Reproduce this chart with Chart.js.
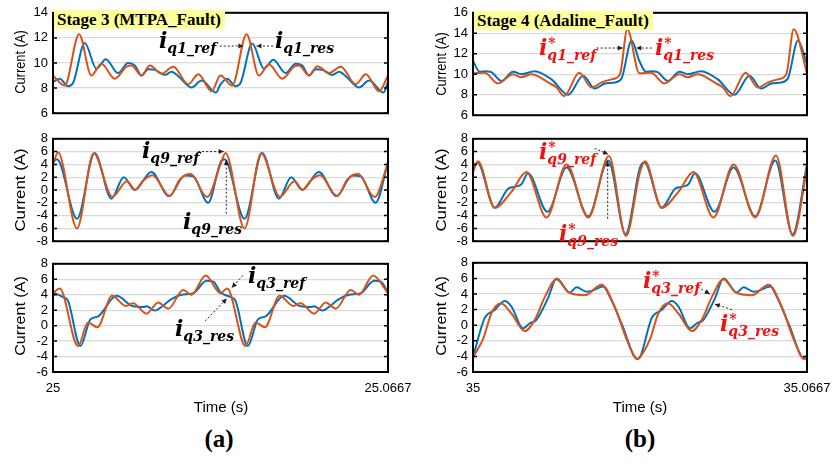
<!DOCTYPE html>
<html>
<head>
<meta charset="utf-8">
<script src="https://cdn.jsdelivr.net/npm/chart.js@4.4.1/dist/chart.umd.min.js"></script>
<style>
  body { margin:0; background:#fff; }
  #fig { position:relative; width:832px; height:465px; overflow:hidden; font-family:'Liberation Sans', Arial, sans-serif; color:#000; }
  canvas { position:absolute; }
  .ylab { position:absolute; font-size:14px; white-space:nowrap; }
  .xlab { position:absolute; font-size:15px; transform:translateX(-50%); white-space:nowrap; }
  .cap { position:absolute; font:bold 25px 'Liberation Serif', serif; transform:translateX(-50%); }
  .stage { position:absolute; background:#ffff99; font:bold 17px 'Liberation Serif', serif; line-height:19px; padding:0 4px 0 3px; white-space:nowrap; }
  .ann { position:absolute; font:italic bold 22px 'DejaVu Serif', serif; line-height:22px; white-space:nowrap; }
  .ann.red { color:#f21111; }
  .ann .sb { font-size:14px; position:relative; top:5px; }
  .ann .st { position:absolute; left:1px; top:-15px; font-size:14px; }
</style>
</head>
<body>
<div id="fig">
  <canvas id="lt" width="420" height="126" style="left:0;top:0"></canvas>
  <canvas id="lm" width="420" height="128" style="left:0;top:126px"></canvas>
  <canvas id="lb" width="420" height="160" style="left:0;top:251px"></canvas>
  <canvas id="rt" width="410" height="128" style="left:422px;top:0"></canvas>
  <canvas id="rm" width="410" height="128" style="left:422px;top:126px"></canvas>
  <canvas id="rb" width="410" height="160" style="left:422px;top:250px"></canvas>

  <div class="ylab" style="left:19.5px;top:62px;transform:translate(-50%,-50%) rotate(-90deg) scaleX(0.92)">Current (A)</div>
  <div class="ylab" style="left:19.5px;top:190px;transform:translate(-50%,-50%) rotate(-90deg) scaleX(1.2)">Current (A)</div>
  <div class="ylab" style="left:19.5px;top:316px;transform:translate(-50%,-50%) rotate(-90deg) scaleX(1.15)">Current (A)</div>
  <div class="ylab" style="left:441px;top:64px;transform:translate(-50%,-50%) rotate(-90deg) scaleX(0.92)">Current (A)</div>
  <div class="ylab" style="left:441px;top:190px;transform:translate(-50%,-50%) rotate(-90deg) scaleX(1.2)">Current (A)</div>
  <div class="ylab" style="left:441px;top:316px;transform:translate(-50%,-50%) rotate(-90deg) scaleX(1.15)">Current (A)</div>

  <div class="xlab" style="left:221px;top:398px">Time (s)</div>
  <div class="xlab" style="left:640px;top:398px">Time (s)</div>
  <div class="cap" style="left:219px;top:425px">(a)</div>
  <div class="cap" style="left:640px;top:425px">(b)</div>

  <div class="stage" style="left:54px;top:10px">Stage 3 (MTPA_Fault)</div>
  <div class="stage" style="left:474px;top:11px">Stage 4 (Adaline_Fault)</div>

  <div class="ann" style="left:159px;top:29px">i<span class="sb">q1_ref</span></div>
  <div class="ann" style="left:275px;top:29px">i<span class="sb">q1_res</span></div>
  <div class="ann" style="left:142px;top:139px">i<span class="sb">q9_ref</span></div>
  <div class="ann" style="left:183px;top:210px">i<span class="sb">q9_res</span></div>
  <div class="ann" style="left:248px;top:264px">i<span class="sb">q3_ref</span></div>
  <div class="ann" style="left:175px;top:317px">i<span class="sb">q3_res</span></div>

  <div class="ann red" style="left:539px;top:36px">i<span class="sb"><span class="st">*</span>q1_ref</span></div>
  <div class="ann red" style="left:655px;top:36px">i<span class="sb"><span class="st">*</span>q1_res</span></div>
  <div class="ann red" style="left:539px;top:140px">i<span class="sb"><span class="st">*</span>q9_ref</span></div>
  <div class="ann red" style="left:559px;top:222px">i<span class="sb"><span class="st">*</span>q9_res</span></div>
  <div class="ann red" style="left:643px;top:269px">i<span class="sb"><span class="st">*</span>q3_ref</span></div>
  <div class="ann red" style="left:720px;top:312px">i<span class="sb"><span class="st">*</span>q3_res</span></div>
</div>

<script>
// time in ms from the start of each window (0 .. 66.7 ms)
const xTicksA = ['25', '25.0667'];
const xTicksB = ['35', '35.0667'];

// (a) Stage 3, iq1
const q1aRefT = [0, 2.33, 5.19, 7.65, 9.64, 12.3, 14.63, 15.63, 17.62, 19.29, 21.61, 23.94, 26.93, 28.93, 31.59, 33.35, 35.68, 38.54, 41.0, 42.99, 45.65, 47.98, 48.98, 50.97, 52.64, 54.96, 57.29, 60.28, 62.28, 64.94, 66.7];
const q1aRef  = [9.0, 8.2, 12.3, 9.0, 9.95, 8.75, 9.7, 9.8, 9.0, 9.8, 9.15, 9.7, 8.3, 9.1, 7.75, 9.0, 8.2, 12.3, 9.0, 9.9, 8.75, 9.7, 9.8, 9.0, 9.75, 9.2, 9.7, 8.3, 9.1, 7.75, 9.0];
const q1aResT = [0, 1.33, 2.99, 3.99, 6.32, 8.65, 10.51, 12.97, 14.96, 16.29, 17.62, 18.95, 20.28, 22.28, 23.61, 24.94, 27.6, 29.59, 32.45, 33.35, 34.68, 36.34, 37.34, 39.67, 42.0, 43.86, 46.32, 48.31, 49.64, 50.97, 52.3, 53.63, 55.63, 56.96, 58.29, 60.95, 62.94, 65.8, 66.7];
const q1aRes  = [8.5, 8.75, 8.15, 8.4, 11.6, 9.55, 10.3, 9.2, 10.0, 9.8, 9.0, 9.5, 9.45, 9.05, 9.3, 8.95, 8.05, 8.6, 7.65, 8.3, 8.75, 8.15, 8.4, 11.55, 9.55, 10.25, 9.2, 9.95, 9.8, 9.0, 9.5, 9.45, 9.05, 9.3, 8.95, 8.05, 8.6, 7.65, 8.5];

// (a) iq9
const q9aRefT = [0, 1.0, 4.78, 8.1, 11.82, 14.74, 16.33, 17.93, 19.79, 23.24, 25.23, 27.36, 30.68, 33.35, 34.35, 38.13, 41.45, 45.17, 48.09, 49.68, 51.28, 53.14, 56.59, 58.58, 60.71, 64.03, 66.7];
const q9aRef  = [4.0, 5.9, -6.0, 5.75, -1.05, 1.35, 0.05, 1.45, 2.3, -0.95, 1.6, 2.55, -1.1, 4.0, 5.8, -6.0, 5.75, -1.05, 1.35, 0.05, 1.45, 2.3, -0.95, 1.6, 2.55, -1.1, 4.2];
const q9aResT = [0, 0.8, 4.78, 8.3, 11.62, 14.08, 16.27, 19.59, 23.11, 26.23, 27.89, 30.88, 33.35, 34.15, 38.13, 41.65, 44.97, 47.43, 49.62, 52.94, 56.46, 59.58, 61.24, 64.23, 66.7];
const q9aRes  = [4.3, 4.8, -4.5, 5.8, -1.35, 2.0, 0.0, 2.8, -0.95, 2.25, 2.15, -2.0, 4.3, 4.8, -4.5, 5.8, -1.35, 2.0, 0.0, 2.8, -0.95, 2.25, 2.15, -2.0, 4.4];

// (a) iq3
const q3aRefT = [0, 1.33, 4.99, 6.98, 8.84, 11.77, 14.5, 15.96, 18.62, 20.95, 22.94, 25.94, 27.6, 30.39, 33.35, 34.68, 38.34, 40.33, 42.19, 45.12, 47.85, 49.31, 51.97, 54.3, 56.29, 59.29, 60.95, 63.74, 66.7];
const q3aRef  = [4.2, 4.8, -2.65, 0.4, -0.2, 3.85, 2.55, 2.9, 1.55, 3.0, 2.2, 4.6, 4.0, 6.5, 4.2, 4.8, -2.65, 0.4, -0.2, 3.85, 2.55, 2.9, 1.55, 3.0, 2.2, 4.6, 4.0, 6.5, 4.2];
const q3aResT = [0, 2.0, 3.0, 5.45, 7.45, 8.98, 12.64, 15.96, 17.96, 18.62, 20.28, 21.95, 23.28, 25.6, 27.93, 30.59, 31.92, 33.35, 35.35, 36.35, 38.8, 40.8, 42.33, 45.99, 49.31, 51.31, 51.97, 53.63, 55.3, 56.63, 58.95, 61.28, 63.94, 65.27, 66.7];
const q3aRes  = [4.3, 3.7, 3.2, -2.65, 0.8, 1.2, 3.85, 2.5, 2.4, 2.5, 1.95, 2.6, 3.3, 4.0, 4.2, 5.8, 5.7, 4.3, 3.7, 3.2, -2.65, 0.8, 1.2, 3.85, 2.5, 2.4, 2.5, 1.95, 2.6, 3.3, 4.0, 4.2, 5.8, 5.7, 4.3];

// (b) Stage 4, iq1*
const q1bRefT = [0, 2.33, 5.0, 8.0, 9.67, 11.67, 15.0, 16.68, 18.21, 21.21, 23.68, 25.68, 27.68, 29.35, 30.82, 33.22, 35.55, 38.22, 41.22, 42.89, 44.89, 48.22, 49.9, 51.43, 54.43, 56.9, 58.9, 60.9, 62.57, 64.04, 66.7];
const q1bRef  = [10.1, 10.15, 9.1, 10.0, 9.7, 10.0, 9.2, 8.7, 7.85, 10.15, 8.7, 9.2, 9.5, 10.0, 14.4, 10.1, 10.15, 9.1, 10.0, 9.7, 10.0, 9.2, 8.7, 7.85, 10.15, 8.7, 9.2, 9.5, 10.0, 14.4, 10.1];
const q1bResT = [0, 1.33, 2.33, 3.67, 5.67, 8.0, 9.67, 12.34, 15.67, 19.0, 22.0, 24.35, 26.35, 28.35, 29.68, 31.68, 33.22, 34.55, 35.55, 36.89, 38.89, 41.22, 42.89, 45.56, 48.89, 52.22, 55.22, 57.57, 59.57, 61.57, 62.9, 64.9, 66.7];
const q1bRes  = [11.3, 10.25, 10.3, 10.2, 9.35, 10.25, 10.0, 10.3, 9.5, 8.0, 9.85, 8.6, 9.1, 9.2, 9.6, 13.3, 11.3, 10.25, 10.3, 10.2, 9.35, 10.25, 10.0, 10.3, 9.5, 8.0, 9.85, 8.6, 9.1, 9.2, 9.6, 13.3, 11.0];

// (b) iq9*
const q9bRefT = [0, 1.0, 4.34, 7.67, 10.67, 14.67, 18.68, 23.01, 27.15, 30.55, 33.35, 34.35, 37.69, 41.02, 44.02, 48.02, 52.03, 56.36, 60.5, 63.9, 66.7];
const q9bRef  = [2.8, 4.5, -2.8, -0.3, 2.8, -4.3, 4.0, -4.3, 5.3, -7.2, 2.8, 4.5, -2.8, -0.3, 2.8, -4.3, 4.0, -4.3, 5.4, -7.2, 3.3];
const q9bResT = [0, 0.87, 4.34, 7.0, 8.34, 9.67, 11.0, 14.87, 18.68, 23.01, 27.01, 30.48, 33.35, 34.22, 37.69, 40.35, 41.69, 43.02, 44.35, 48.22, 52.03, 56.36, 60.36, 63.83, 66.7];
const q9bRes  = [3.5, 4.3, -2.75, 0.2, 0.5, 0.9, 2.6, -3.4, 3.5, -4.1, 4.6, -6.9, 3.5, 4.3, -2.75, 0.2, 0.5, 0.9, 2.6, -3.4, 3.5, -4.1, 4.6, -6.9, 4.0];

// (b) iq3*
const q3bRefT = [0, 2.0, 3.67, 5.54, 7.67, 10.34, 12.34, 14.34, 16.68, 19.01, 22.34, 25.68, 28.35, 30.68, 32.82, 33.35, 35.35, 37.02, 38.89, 41.02, 43.69, 45.69, 47.69, 50.03, 52.36, 55.69, 59.03, 61.7, 64.03, 66.17, 66.7];
const q3bRef  = [-4.1, -1.8, 1.5, 2.8, 1.5, -0.75, 0.7, 3.6, 5.9, 4.25, 3.85, 5.2, 2.3, -1.8, -4.35, -4.1, -1.8, 1.5, 2.8, 1.5, -0.75, 0.7, 3.6, 5.9, 4.25, 3.85, 5.2, 2.3, -1.8, -4.35, -4.1];
const q3bResT = [0, 2.33, 4.34, 6.34, 7.67, 10.0, 11.34, 12.67, 15.0, 16.68, 19.34, 20.68, 22.68, 23.68, 26.01, 27.35, 29.68, 32.82, 33.35, 35.68, 37.69, 39.69, 41.02, 43.35, 44.69, 46.02, 48.35, 50.03, 52.69, 54.03, 56.03, 57.03, 59.36, 60.7, 63.03, 66.17, 66.7];
const q3bRes  = [-4.1, 0.9, 1.95, 3.1, 2.4, -0.4, 0.25, 0.7, 3.5, 6.0, 4.2, 4.85, 4.3, 4.4, 4.95, 3.6, 0.2, -4.3, -4.1, 0.9, 1.95, 3.1, 2.4, -0.4, 0.25, 0.7, 3.5, 6.0, 4.2, 4.85, 4.3, 4.4, 4.95, 3.6, 0.2, -4.3, -3.9];

const ORANGE = '#D95319';
const BLUE = '#0072BD';
const X_MAX = 66.7;

Chart.defaults.font.family = "'Liberation Sans', Arial, sans-serif";
Chart.defaults.font.size = 13;
Chart.defaults.color = '#000';

// black box, inward tick marks and the dashed annotation arrows
const framePlugin = {
  id: 'frame',
  afterDatasetsDraw(chart, args, opts) {
    const ctx = chart.ctx, a = chart.chartArea, x = chart.scales.x, y = chart.scales.y;
    ctx.save();
    ctx.strokeStyle = '#000';
    ctx.lineWidth = 1.5;
    y.ticks.forEach(t => {
      const py = y.getPixelForValue(t.value);
      ctx.beginPath();
      ctx.moveTo(a.left, py); ctx.lineTo(a.left + 4, py);
      ctx.moveTo(a.right, py); ctx.lineTo(a.right - 4, py);
      ctx.stroke();
    });
    ctx.lineWidth = 2;
    ctx.strokeRect(a.left, a.top, a.right - a.left, a.bottom - a.top);

    (opts.arrows || []).forEach(ar => {
      const x1 = x.getPixelForValue(ar[0]), y1 = y.getPixelForValue(ar[1]);
      const x2 = x.getPixelForValue(ar[2]), y2 = y.getPixelForValue(ar[3]);
      ctx.lineWidth = 1;
      ctx.setLineDash([2, 2]);
      ctx.strokeStyle = '#222';
      ctx.beginPath(); ctx.moveTo(x1, y1); ctx.lineTo(x2, y2); ctx.stroke();
      ctx.setLineDash([]);
      const ang = Math.atan2(y2 - y1, x2 - x1);
      ctx.fillStyle = '#222';
      ctx.beginPath();
      ctx.moveTo(x2, y2);
      ctx.lineTo(x2 - 5 * Math.cos(ang) + 2.5 * Math.sin(ang), y2 - 5 * Math.sin(ang) - 2.5 * Math.cos(ang));
      ctx.lineTo(x2 - 5 * Math.cos(ang) - 2.5 * Math.sin(ang), y2 - 5 * Math.sin(ang) + 2.5 * Math.cos(ang));
      ctx.closePath();
      ctx.fill();
    });
    ctx.restore();
  }
};

function pts(t, v) {
  return t.map((tt, i) => ({ x: tt, y: v[i] }));
}

function panel(id, refT, ref, resT, res, yMin, yMax, box, xTicks, arrows) {
  return new Chart(document.getElementById(id), {
    type: 'line',
    data: {
      datasets: [
        { label: 'ref', data: pts(refT, ref), borderColor: ORANGE },
        { label: 'res', data: pts(resT, res), borderColor: BLUE }
      ]
    },
    options: {
      responsive: false,
      animation: false,
      devicePixelRatio: 1,
      layout: { autoPadding: false, padding: { left: 0, top: box.pt, right: box.pr, bottom: box.pb } },
      elements: {
        point: { radius: 0 },
        line: { borderWidth: 2, cubicInterpolationMode: 'monotone', fill: false }
      },
      plugins: {
        legend: { display: false },
        tooltip: { enabled: false },
        frame: { arrows: arrows }
      },
      scales: {
        x: {
          type: 'linear', min: 0, max: X_MAX,
          display: !!xTicks,
          grid: { display: false },
          border: { display: false },
          afterBuildTicks: s => { s.ticks = [{ value: 0 }, { value: X_MAX }]; },
          ticks: { maxRotation: 0, padding: 1, callback: (v, i) => xTicks ? xTicks[i] : '' },
          afterFit: s => { s.height = xTicks ? 30 : 0; }
        },
        y: {
          min: yMin, max: yMax,
          ticks: { stepSize: 2, padding: 5, autoSkip: false },
          grid: { color: '#d9d9d9', lineWidth: 1.3, drawTicks: false },
          border: { display: false },
          afterFit: s => { s.width = box.yw; }
        }
      }
    },
    plugins: [framePlugin]
  });
}

panel('lt', q1aRefT, q1aRef, q1aResT, q1aRes, 6, 14, { yw: 53, pt: 7, pb: 8, pr: 32 }, null,
  [[33.2, 11.35, 37.9, 11.35], [43.8, 11.35, 40.5, 11.35]]);
panel('lm', q9aRefT, q9aRef, q9aResT, q9aRes, -8, 8, { yw: 53, pt: 10, pb: 7, pr: 32 }, null,
  [[28.9, 6.0, 34.0, 6.0], [34.5, -3.7, 34.5, 4.7]]);
panel('lb', q3aRefT, q3aRef, q3aResT, q3aRes, -6, 8, { yw: 53, pt: 10, pb: 9, pr: 32 }, xTicksA,
  [[37.8, 6.5, 35.6, 4.9], [30.3, 0.6, 34.6, 3.5]]);

panel('rt', q1bRefT, q1bRef, q1bResT, q1bRes, 6, 16, { yw: 51, pt: 9, pb: 8, pr: 25 }, null,
  [[24.7, 12.56, 29.9, 12.56], [35.7, 12.56, 32.6, 12.56]]);
panel('rm', q9bRefT, q9bRef, q9bResT, q9bRes, -8, 8, { yw: 51, pt: 10, pb: 8, pr: 25 }, null,
  [[24.3, 6.5, 27.0, 5.6], [26.9, -4.5, 26.9, 4.5]]);
panel('rb', q3bRefT, q3bRef, q3bResT, q3bRes, -6, 8, { yw: 51, pt: 10, pb: 8, pr: 25 }, xTicksB,
  [[44.9, 4.9, 47.3, 4.0], [51.7, 2.0, 48.3, 2.7]]);
</script>
</body>
</html>
